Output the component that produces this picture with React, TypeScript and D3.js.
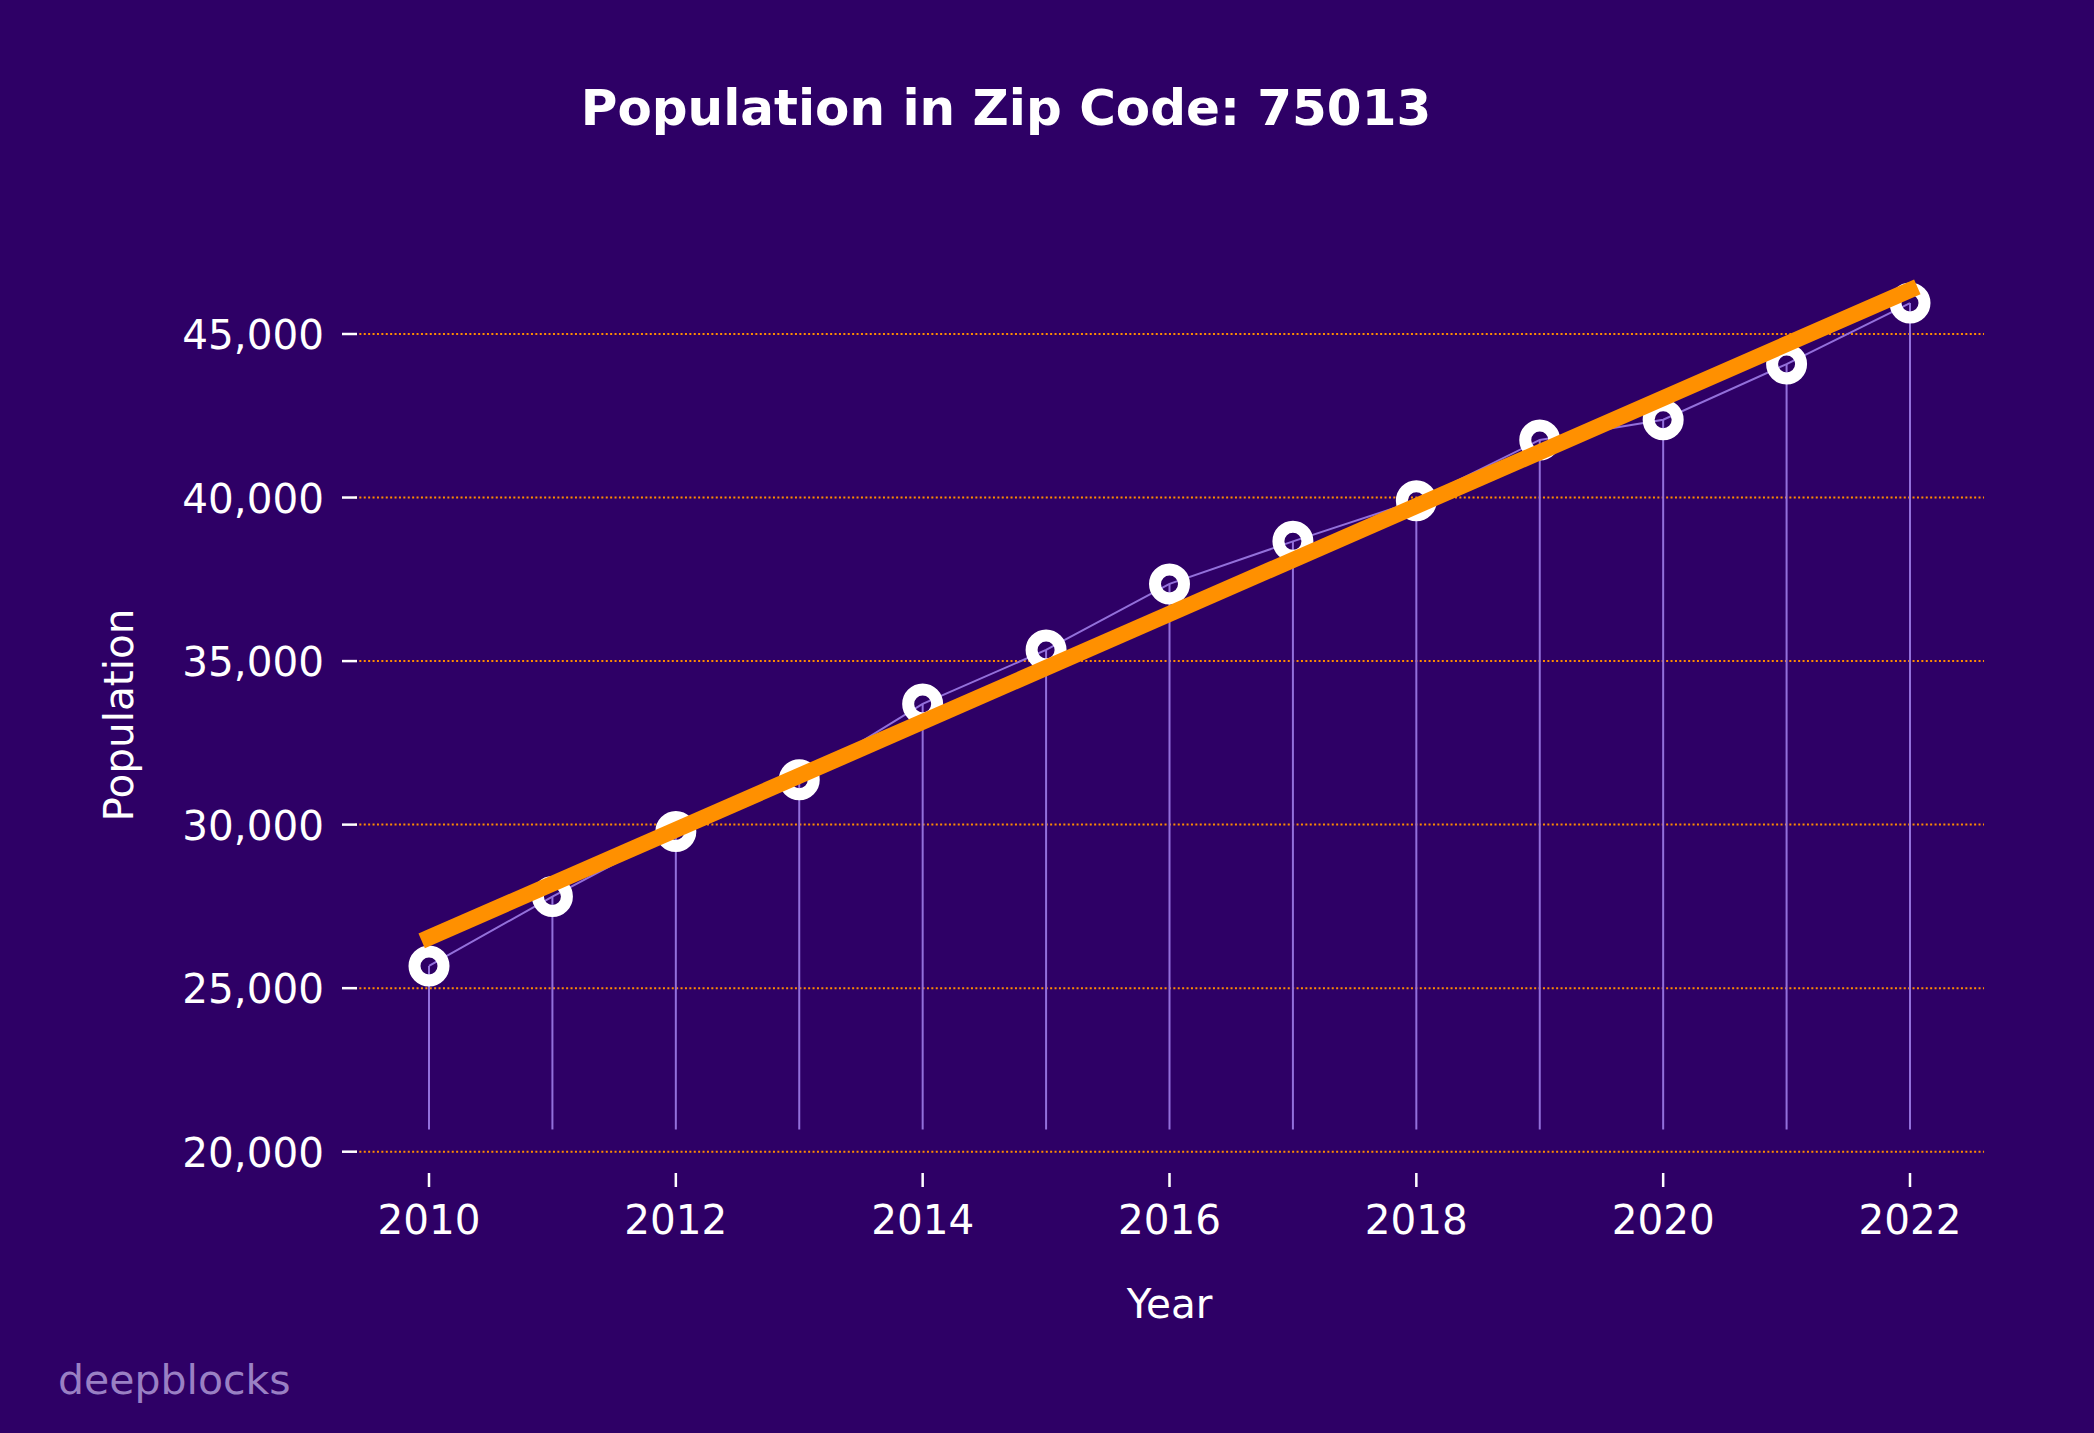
import React from "react";
import * as d3 from "d3";

const years = [2010, 2011, 2012, 2013, 2014, 2015, 2016, 2017, 2018, 2019, 2020, 2021, 2022];
const population = [25680, 27800, 29790, 31370, 33690, 35340, 37360, 38660, 39900, 41760, 42380, 44080, 45945];
const yTicks = [20000, 25000, 30000, 35000, 40000, 45000];
const xTicks = [2010, 2012, 2014, 2016, 2018, 2020, 2022];
const stemBase = 20680;
const title = "Population in Zip Code: 75013";

const W = 2094;
const H = 1433;
const BG = "#2e0066";
const FONT = "DejaVu Sans, Verdana, sans-serif";

export default function App() {
  const x = d3.scaleLinear().domain([2010, 2022]).range([429, 1910]);
  const y = d3.scaleLinear().domain([20000, 45000]).range([1151.7, 334]);
  const xMin = x(2009.4);
  const xMax = x(2022.6);
  const axisBottom = 1173;

  // least-squares trend
  const n = years.length;
  const mx = d3.mean(years) as number;
  const my = d3.mean(population) as number;
  let sxy = 0, sxx = 0;
  years.forEach((yr, i) => {
    sxy += (yr - mx) * (population[i] - my);
    sxx += (yr - mx) * (yr - mx);
  });
  const slope = sxy / sxx;
  const intercept = my - slope * mx;
  const trend = (yr: number) => intercept + slope * yr;

  const lineGen = d3
    .line<number>()
    .x((_, i) => x(years[i]))
    .y((d) => y(d));

  const fmt = d3.format(",");

  return (
    <div style={{ position: "fixed", left: 0, top: 0, width: W, height: H }}>
      <svg width={W} height={H} style={{ display: "block" }}>
        <rect x={0} y={0} width={W} height={H} fill={BG} />
        <text x={1006} y={125} textAnchor="middle" fill="#ffffff" fontFamily={FONT} fontWeight="bold" fontSize={50}>
          {title}
        </text>

        {/* grid + y ticks */}
        {yTicks.map((t) => (
          <g key={t}>
            <line x1={xMin} x2={xMax} y1={y(t)} y2={y(t)} stroke="#ff8c00" strokeWidth={2} strokeDasharray="2,2.4" />
            <line x1={342} x2={357} y1={y(t)} y2={y(t)} stroke="#ffffff" strokeWidth={2.5} />
            <text x={324} y={y(t)} dy="0.37em" textAnchor="end" fill="#ffffff" fontFamily={FONT} fontSize={40.5}>
              {fmt(t)}
            </text>
          </g>
        ))}

        {/* x ticks */}
        {xTicks.map((t) => (
          <g key={t}>
            <line x1={x(t)} x2={x(t)} y1={axisBottom} y2={axisBottom + 14} stroke="#ffffff" strokeWidth={2.5} />
            <text x={x(t)} y={1234} textAnchor="middle" fill="#ffffff" fontFamily={FONT} fontSize={40.5}>
              {t}
            </text>
          </g>
        ))}

        {/* stems */}
        {years.map((yr, i) => (
          <line key={yr} x1={x(yr)} x2={x(yr)} y1={y(stemBase)} y2={y(population[i])} stroke="#9370db" strokeWidth={2} />
        ))}

        {/* connecting line */}
        <path d={lineGen(population) || ""} fill="none" stroke="#9370db" strokeWidth={2} />

        {/* markers */}
        {years.map((yr, i) => (
          <circle key={yr} cx={x(yr)} cy={y(population[i])} r={14.5} fill="none" stroke="#ffffff" strokeWidth={12} />
        ))}

        {/* trend line */}
        <line
          x1={x(years[0])}
          y1={y(trend(years[0]))}
          x2={x(years[n - 1])}
          y2={y(trend(years[n - 1]))}
          stroke="#ff9000"
          strokeWidth={16}
          strokeLinecap="square"
        />

        {/* axis labels */}
        <text x={x(2016)} y={1318} textAnchor="middle" fill="#ffffff" fontFamily={FONT} fontSize={40.5}>
          Year
        </text>
        <text
          transform={`translate(133, 715) rotate(-90)`}
          textAnchor="middle"
          fill="#ffffff"
          fontFamily={FONT}
          fontSize={40.5}
        >
          Population
        </text>

        <text x={58} y={1394} fill="#9a80c4" fontFamily={FONT} fontSize={41}>
          deepblocks
        </text>
      </svg>
    </div>
  );
}
